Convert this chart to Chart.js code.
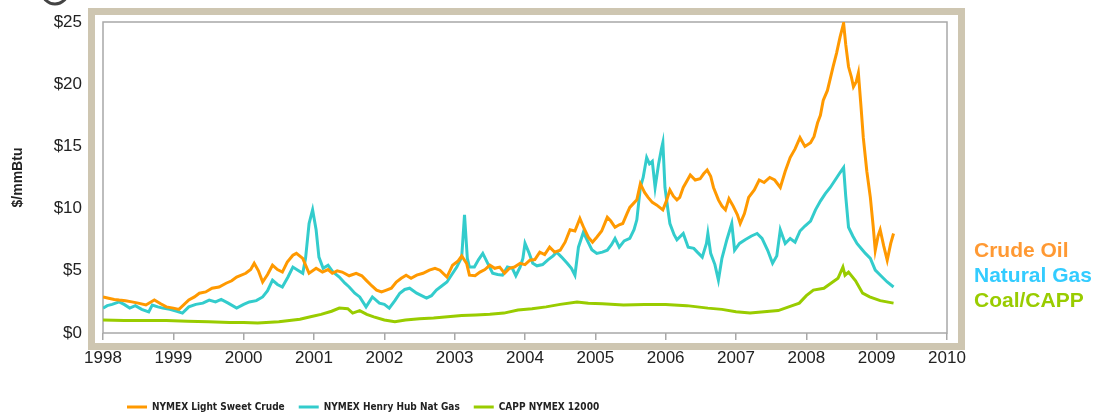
<!DOCTYPE html>
<html>
<head>
<meta charset="utf-8">
<script src="https://cdn.jsdelivr.net/npm/chart.js@4.4.1/dist/chart.umd.min.js"></script>
<style>
  html, body { margin: 0; padding: 0; background: #ffffff; }
  #wrap { width: 1104px; height: 420px; position: relative; }
</style>
</head>
<body>
<div id="wrap"><canvas id="c" width="1104" height="420"></canvas></div>
<script>
// ---- data: [decimal year, $/mmBtu] ----
const seriesNames = ['NYMEX Light Sweet Crude', 'NYMEX Henry Hub Nat Gas', 'CAPP NYMEX 12000'];
const sideLabels = ['Crude Oil', 'Natural Gas', 'Coal/CAPP'];
const xTickLabels = ['1998','1999','2000','2001','2002','2003','2004','2005','2006','2007','2008','2009','2010'];
const yTickLabels = ['$0','$5','$10','$15','$20','$25'];

const crudeOil = [
 [1998.00,2.9],[1998.08,2.8],[1998.16,2.7],[1998.23,2.65],[1998.32,2.6],[1998.41,2.5],[1998.50,2.4],[1998.61,2.25],
 [1998.73,2.65],[1998.82,2.35],[1998.90,2.1],[1999.00,2.0],[1999.08,1.9],[1999.22,2.65],[1999.30,2.9],[1999.37,3.2],
 [1999.46,3.3],[1999.55,3.6],[1999.65,3.7],[1999.75,4.0],[1999.83,4.2],[1999.90,4.5],[2000.03,4.8],[2000.10,5.1],
 [2000.15,5.6],[2000.21,5.0],[2000.27,4.1],[2000.34,4.7],[2000.41,5.45],[2000.48,5.1],[2000.55,4.9],[2000.62,5.7],
 [2000.70,6.25],[2000.75,6.4],[2000.84,6.0],[2000.93,4.8],[2001.03,5.2],[2001.12,4.9],[2001.20,5.1],[2001.26,4.8],
 [2001.33,5.0],[2001.40,4.9],[2001.50,4.6],[2001.60,4.8],[2001.68,4.6],[2001.74,4.25],[2001.82,3.8],[2001.89,3.45],
 [2001.96,3.3],[2002.03,3.45],[2002.10,3.6],[2002.17,4.1],[2002.24,4.4],[2002.31,4.65],[2002.38,4.4],[2002.46,4.65],
 [2002.55,4.8],[2002.64,5.05],[2002.72,5.2],[2002.79,5.05],[2002.89,4.5],[2002.97,5.45],[2003.05,5.8],[2003.10,6.2],
 [2003.17,5.6],[2003.21,4.65],[2003.29,4.6],[2003.36,4.9],[2003.43,5.1],[2003.50,5.45],[2003.57,5.2],[2003.64,5.3],
 [2003.71,4.8],[2003.78,5.2],[2003.85,5.3],[2003.93,5.6],[2004.00,5.5],[2004.07,5.85],[2004.14,5.9],[2004.21,6.5],
 [2004.28,6.3],[2004.35,6.9],[2004.42,6.5],[2004.50,6.65],[2004.57,7.3],[2004.64,8.3],[2004.71,8.2],[2004.78,9.2],
 [2004.84,8.4],[2004.90,7.7],[2004.96,7.3],[2005.02,7.7],[2005.09,8.2],[2005.17,9.3],[2005.22,9.0],[2005.28,8.5],
 [2005.34,8.7],[2005.39,8.8],[2005.45,9.6],[2005.49,10.1],[2005.54,10.4],[2005.59,10.7],[2005.64,12.0],[2005.70,11.3],
 [2005.75,10.9],[2005.81,10.5],[2005.87,10.3],[2005.96,9.9],[2006.01,10.6],[2006.06,11.5],[2006.11,11.0],[2006.16,10.7],
 [2006.20,10.9],[2006.25,11.7],[2006.30,12.2],[2006.35,12.7],[2006.42,12.3],[2006.49,12.4],[2006.54,12.8],[2006.59,13.1],
 [2006.64,12.6],[2006.68,11.7],[2006.75,10.7],[2006.80,10.2],[2006.85,9.9],[2006.90,10.8],[2006.96,10.2],[2007.02,9.5],
 [2007.06,8.8],[2007.12,9.6],[2007.18,10.9],[2007.26,11.5],[2007.33,12.3],[2007.40,12.1],[2007.48,12.5],[2007.55,12.3],
 [2007.63,11.7],[2007.70,13.0],[2007.77,14.1],[2007.84,14.8],[2007.91,15.7],[2007.98,15.0],[2008.06,15.3],[2008.11,15.8],
 [2008.16,16.9],[2008.20,17.5],[2008.24,18.7],[2008.30,19.5],[2008.38,21.4],[2008.43,22.5],[2008.48,23.8],[2008.53,24.9],
 [2008.56,23.2],[2008.60,21.4],[2008.64,20.6],[2008.67,19.8],[2008.71,20.2],[2008.74,20.9],[2008.78,18.0],[2008.81,15.7],
 [2008.86,13.0],[2008.91,10.9],[2008.95,8.6],[2008.98,6.65],[2009.02,7.8],[2009.05,8.3],[2009.10,7.0],[2009.15,5.85],
 [2009.20,7.2],[2009.24,8.0]
];

const naturalGas = [
 [1998.00,2.0],[1998.06,2.2],[1998.13,2.3],[1998.23,2.5],[1998.30,2.3],[1998.38,2.0],[1998.46,2.2],[1998.55,1.9],
 [1998.65,1.7],[1998.70,2.25],[1998.78,2.1],[1998.85,2.0],[1998.95,1.9],[1999.05,1.75],[1999.13,1.6],[1999.22,2.1],
 [1999.32,2.3],[1999.42,2.4],[1999.51,2.65],[1999.60,2.5],[1999.68,2.7],[1999.78,2.4],[1999.90,2.0],[2000.00,2.3],
 [2000.08,2.5],[2000.18,2.6],[2000.27,2.9],[2000.34,3.4],[2000.41,4.25],[2000.48,3.9],[2000.55,3.7],[2000.63,4.5],
 [2000.70,5.3],[2000.77,5.05],[2000.84,4.8],[2000.88,6.0],[2000.93,8.8],[2000.98,9.9],[2001.03,8.3],[2001.07,6.1],
 [2001.13,5.2],[2001.20,5.45],[2001.27,4.9],[2001.36,4.5],[2001.44,4.0],[2001.50,3.7],[2001.58,3.2],[2001.65,2.9],
 [2001.74,2.1],[2001.83,2.9],[2001.93,2.4],[2002.00,2.3],[2002.07,2.0],[2002.15,2.6],[2002.22,3.2],[2002.29,3.5],
 [2002.36,3.6],[2002.46,3.2],[2002.53,3.0],[2002.60,2.8],[2002.67,3.0],[2002.74,3.45],[2002.82,3.8],[2002.89,4.1],
 [2002.96,4.7],[2003.03,5.3],[2003.10,6.1],[2003.14,9.5],[2003.18,6.0],[2003.21,5.3],[2003.28,5.3],[2003.34,5.9],
 [2003.40,6.4],[2003.47,5.6],[2003.54,4.8],[2003.61,4.7],[2003.68,4.65],[2003.75,5.3],[2003.82,5.2],[2003.87,4.6],
 [2003.93,5.3],[2003.97,6.0],[2004.00,7.2],[2004.06,6.4],[2004.11,5.6],[2004.17,5.4],[2004.25,5.5],[2004.33,5.9],
 [2004.40,6.2],[2004.45,6.5],[2004.52,6.1],[2004.60,5.6],[2004.66,5.2],[2004.71,4.65],[2004.76,6.9],[2004.83,8.1],
 [2004.88,7.5],[2004.95,6.7],[2005.02,6.4],[2005.10,6.5],[2005.17,6.65],[2005.23,7.1],[2005.28,7.6],[2005.34,6.9],
 [2005.41,7.4],[2005.49,7.6],[2005.55,8.3],[2005.59,9.1],[2005.64,11.7],[2005.68,12.5],[2005.73,14.1],[2005.77,13.6],
 [2005.81,13.8],[2005.85,11.7],[2005.90,13.6],[2005.94,14.8],[2005.96,15.3],[2005.99,11.7],[2006.03,10.0],[2006.06,8.8],
 [2006.12,7.9],[2006.16,7.5],[2006.25,8.0],[2006.32,6.9],[2006.40,6.8],[2006.45,6.5],[2006.52,6.1],[2006.58,7.2],
 [2006.60,8.0],[2006.64,6.4],[2006.70,5.5],[2006.75,4.25],[2006.80,6.0],[2006.87,7.5],[2006.94,8.8],[2006.98,6.65],
 [2007.05,7.2],[2007.13,7.5],[2007.22,7.8],[2007.30,8.0],[2007.37,7.6],[2007.45,6.65],[2007.52,5.6],[2007.58,6.2],
 [2007.63,8.3],[2007.70,7.2],[2007.77,7.6],[2007.84,7.3],[2007.91,8.2],[2007.98,8.6],[2008.06,9.0],[2008.13,9.9],
 [2008.20,10.6],[2008.27,11.2],[2008.34,11.7],[2008.41,12.3],[2008.48,12.9],[2008.53,13.3],[2008.56,11.0],[2008.60,8.5],
 [2008.66,7.8],[2008.72,7.2],[2008.78,6.8],[2008.84,6.4],[2008.91,6.0],[2008.98,5.05],[2009.06,4.6],[2009.15,4.1],
 [2009.24,3.7]
];

const coalCapp = [
 [1998.00,1.05],[1998.30,1.0],[1998.60,1.0],[1998.90,1.0],[1999.20,0.95],[1999.50,0.9],[1999.80,0.85],[2000.00,0.85],
 [2000.20,0.8],[2000.50,0.9],[2000.80,1.1],[2000.95,1.3],[2001.10,1.5],[2001.25,1.75],[2001.36,2.0],[2001.48,1.95],
 [2001.55,1.6],[2001.65,1.8],[2001.75,1.5],[2001.85,1.3],[2002.00,1.05],[2002.15,0.9],[2002.30,1.05],[2002.50,1.15],
 [2002.70,1.2],[2002.90,1.3],[2003.10,1.4],[2003.30,1.45],[2003.50,1.5],[2003.70,1.6],[2003.90,1.85],[2004.10,1.95],
 [2004.30,2.1],[2004.50,2.3],[2004.74,2.5],[2004.90,2.4],[2005.10,2.35],[2005.40,2.25],[2005.70,2.3],[2006.00,2.3],
 [2006.30,2.2],[2006.60,2.0],[2006.80,1.9],[2007.00,1.7],[2007.20,1.6],[2007.40,1.7],[2007.60,1.8],[2007.80,2.2],
 [2007.90,2.4],[2008.00,3.0],[2008.10,3.45],[2008.25,3.6],[2008.35,4.0],[2008.45,4.4],[2008.52,5.3],[2008.55,4.65],
 [2008.60,4.9],[2008.70,4.2],[2008.80,3.2],[2008.90,2.9],[2009.05,2.6],[2009.24,2.4]
];

const lineColors = ['#FF9900', '#33CCCC', '#99CC00'];
const sideColors = ['#FF9933', '#33CCFF', '#99CC00'];

const FONT = "'Liberation Sans', Arial, Helvetica, sans-serif";
const NARROW = "'Liberation Sans Narrow', 'DejaVu Sans Condensed', 'Liberation Sans', Arial, sans-serif";

const toXY = arr => arr.map(p => ({ x: p[0], y: p[1] }));

const framePlugin = {
  id: 'frames',
  beforeDraw(chart) {
    const { ctx, chartArea: a } = chart;
    ctx.save();
    ctx.fillStyle = '#ffffff';
    ctx.fillRect(0, 0, chart.width, chart.height);
    // tan outer frame
    ctx.strokeStyle = '#CEC6B1';
    ctx.lineWidth = 7;
    ctx.strokeRect(a.left - 11.5, a.top - 10.5, (a.right + 14.5) - (a.left - 11.5), (a.bottom + 13.5) - (a.top - 10.5));
    // partial title bullet cut by the top edge
    ctx.strokeStyle = '#444';
    ctx.lineWidth = 3;
    ctx.beginPath();
    ctx.arc(55, -9, 13, 0, Math.PI * 2);
    ctx.stroke();
    ctx.restore();
    // place legend like the reference
    const lg = chart.legend;
    if (lg) {
      const pad = lg.options.labels.padding;
      lg.left = 127 - pad;
      lg.top = 407 - pad - 5;
    }
  },
  beforeDatasetsDraw(chart) {
    const { ctx, chartArea: a } = chart;
    ctx.save();
    ctx.strokeStyle = '#A8A8A8';
    ctx.lineWidth = 1.5;
    ctx.strokeRect(a.left, a.top, a.right - a.left, a.bottom - a.top);
    ctx.restore();
  },
  afterDraw(chart) {
    const { ctx } = chart;
    ctx.save();
    ctx.font = 'bold 21px ' + FONT;
    ctx.textAlign = 'left';
    ctx.textBaseline = 'alphabetic';
    const ys = [257, 282, 307];
    sideLabels.forEach((t, i) => {
      ctx.fillStyle = sideColors[i];
      ctx.fillText(t, 974, ys[i]);
    });
    ctx.restore();
  }
};

const mkDataset = (i, data) => ({
  label: seriesNames[i],
  data: toXY(data),
  borderColor: lineColors[i],
  backgroundColor: lineColors[i],
  borderWidth: 3,
  pointRadius: 0,
  tension: 0,
  fill: false
});

new Chart(document.getElementById('c'), {
  type: 'line',
  data: {
    datasets: [mkDataset(0, crudeOil), mkDataset(1, naturalGas), mkDataset(2, coalCapp)]
  },
  options: {
    responsive: false,
    animation: false,
    devicePixelRatio: 1,
    layout: { padding: { left: 0, right: 157, top: 22, bottom: 0 } },
    plugins: {
      tooltip: { enabled: false },
      legend: {
        position: 'bottom',
        align: 'start',
        labels: {
          usePointStyle: true,
          pointStyle: 'line',
          pointStyleWidth: 20,
          padding: 14,
          color: '#222',
          font: { family: NARROW, size: 10, weight: 'bold' }
        }
      }
    },
    scales: {
      x: {
        type: 'linear',
        min: 1998,
        max: 2010,
        afterFit(s) { s.height = 53; },
        ticks: {
          stepSize: 1,
          padding: 8,
          color: '#222',
          font: { family: FONT, size: 17 },
          maxRotation: 0,
          callback: (v) => xTickLabels[Math.round(v) - 1998]
        },
        grid: { display: true, drawOnChartArea: false, drawTicks: true, tickLength: 7, color: '#A8A8A8', lineWidth: 1.5 },
        border: { display: false }
      },
      y: {
        min: 0,
        max: 25,
        afterFit(s) { s.width = 103; },
        ticks: {
          stepSize: 5,
          padding: 0,
          color: '#222',
          font: { family: FONT, size: 17 },
          callback: (v) => yTickLabels[Math.round(v / 5)]
        },
        grid: { display: true, drawOnChartArea: false, drawTicks: true, tickLength: 21, color: 'rgba(0,0,0,0)' },
        border: { display: false },
        title: {
          display: true,
          text: '$/mmBtu',
          color: '#222',
          font: { family: FONT, size: 14, weight: 'bold' },
          padding: { top: 10, bottom: 0 }
        }
      }
    }
  },
  plugins: [framePlugin]
});
</script>
</body>
</html>
